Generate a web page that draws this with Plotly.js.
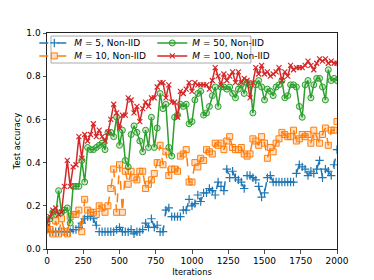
<!DOCTYPE html>
<html><head><meta charset="utf-8">
<script src="https://cdn.plot.ly/plotly-3.0.1.min.js"></script>
<style>html,body{margin:0;padding:0;background:#fff}#chart{width:374px;height:280px}</style>
</head><body><div id="chart"></div>
<script>
const iterations = Array.from({length:101},(_,i)=>i*20);
const accM5 = [0.09,0.08,0.08,0.08,0.08,0.08,0.08,0.08,0.08,0.09,0.09,0.10,0.12,0.14,0.15,0.15,0.14,0.11,0.08,0.08,
0.08,0.08,0.08,0.08,0.09,0.10,0.08,0.08,0.08,0.09,0.07,0.08,0.08,0.09,0.12,0.10,0.14,0.10,0.11,0.08,
0.08,0.18,0.19,0.15,0.15,0.15,0.15,0.18,0.18,0.23,0.20,0.21,0.25,0.22,0.26,0.26,0.28,0.27,0.25,0.31,
0.29,0.27,0.37,0.33,0.36,0.33,0.32,0.31,0.28,0.34,0.34,0.33,0.32,0.29,0.24,0.26,0.33,0.34,0.31,0.31,
0.31,0.31,0.31,0.31,0.31,0.31,0.35,0.39,0.38,0.37,0.34,0.36,0.35,0.37,0.41,0.33,0.37,0.36,0.34,0.39,0.46];
const accM10 = [0.10,0.09,0.07,0.13,0.07,0.14,0.08,0.07,0.15,0.16,0.16,0.18,0.08,0.23,0.18,0.17,0.17,0.16,0.20,0.19,
0.17,0.20,0.28,0.37,0.17,0.39,0.17,0.36,0.30,0.36,0.33,0.32,0.36,0.36,0.28,0.30,0.32,0.35,0.40,0.48,
0.39,0.45,0.34,0.37,0.37,0.36,0.43,0.44,0.46,0.31,0.31,0.40,0.38,0.42,0.41,0.46,0.45,0.44,0.49,0.48,
0.49,0.46,0.50,0.52,0.47,0.46,0.46,0.47,0.44,0.43,0.44,0.51,0.50,0.48,0.52,0.49,0.42,0.47,0.45,0.49,
0.51,0.54,0.53,0.52,0.52,0.55,0.50,0.51,0.53,0.52,0.53,0.49,0.55,0.52,0.49,0.53,0.56,0.48,0.55,0.55,0.59];
const accM50 = [0.12,0.14,0.17,0.16,0.27,0.17,0.18,0.19,0.12,0.29,0.29,0.29,0.41,0.31,0.47,0.46,0.46,0.47,0.48,0.49,
0.46,0.54,0.54,0.52,0.61,0.48,0.55,0.41,0.38,0.53,0.57,0.54,0.50,0.45,0.55,0.47,0.61,0.47,0.56,0.72,
0.65,0.67,0.47,0.43,0.61,0.62,0.67,0.66,0.67,0.58,0.59,0.69,0.72,0.73,0.62,0.63,0.66,0.71,0.75,0.66,
0.75,0.75,0.74,0.75,0.72,0.70,0.74,0.76,0.72,0.77,0.76,0.63,0.76,0.78,0.75,0.69,0.74,0.73,0.71,0.75,
0.76,0.78,0.70,0.71,0.76,0.76,0.75,0.66,0.61,0.76,0.78,0.70,0.76,0.79,0.79,0.75,0.69,0.83,0.78,0.79,0.78];
const accM100 = [0.12,0.15,0.18,0.19,0.16,0.17,0.29,0.41,0.29,0.38,0.39,0.52,0.42,0.53,0.50,0.53,0.58,0.52,0.55,0.52,
0.50,0.54,0.60,0.67,0.63,0.56,0.62,0.62,0.70,0.69,0.63,0.66,0.59,0.65,0.68,0.66,0.70,0.70,0.75,0.77,
0.77,0.70,0.76,0.68,0.68,0.61,0.73,0.72,0.74,0.77,0.73,0.77,0.76,0.76,0.76,0.76,0.74,0.78,0.84,0.80,
0.76,0.81,0.78,0.80,0.82,0.77,0.82,0.77,0.79,0.78,0.70,0.77,0.84,0.81,0.85,0.81,0.82,0.80,0.81,0.82,
0.84,0.78,0.82,0.80,0.85,0.83,0.84,0.84,0.84,0.85,0.87,0.85,0.83,0.86,0.88,0.87,0.88,0.86,0.87,0.86,0.86];
const seriesNames = ['<i>M</i> = 5, Non-IID','<i>M</i> = 10, Non-IID','<i>M</i> = 50, Non-IID','<i>M</i> = 100, Non-IID'];
const xTicks = [0,250,500,750,1000,1250,1500,1750,2000];
const yTicks = [0.0,0.2,0.4,0.6,0.8,1.0];

const traces = [
 {x:iterations,y:accM5,name:seriesNames[0],legend:'legend',legendrank:1,mode:'lines+markers',
  line:{color:'#1f77b4',width:1.5,dash:'dash'},marker:{symbol:'cross-thin',size:6,line:{color:'#1f77b4',width:1.2}}},
 {x:iterations,y:accM10,name:seriesNames[1],legend:'legend2',legendrank:1,mode:'lines+markers',
  line:{color:'#ff7f0e',width:1.5,dash:'dash'},marker:{symbol:'square',size:6,color:'rgba(255,127,14,0.25)',line:{color:'#ff7f0e',width:1}}},
 {x:iterations,y:accM50,name:seriesNames[2],legend:'legend',legendrank:2,mode:'lines+markers',
  line:{color:'#2ca02c',width:1.5},marker:{symbol:'circle',size:6,color:'rgba(44,160,44,0.25)',line:{color:'#2ca02c',width:1}}},
 {x:iterations,y:accM100,name:seriesNames[3],legend:'legend2',legendrank:2,mode:'lines+markers',
  line:{color:'#d62728',width:1.5},marker:{symbol:'x-thin',size:5,line:{color:'#d62728',width:1.2}}}
];
const axisCommon = {showgrid:false,zeroline:false,showline:true,linecolor:'#222',linewidth:1,mirror:true,
  ticks:'outside',ticklen:3.5,tickwidth:0.8,tickcolor:'#222',tickfont:{family:'DejaVu Sans',size:9,color:'#000'}};
const legCommon = {orientation:'h',xanchor:'right',yanchor:'middle',entrywidth:73,
  bgcolor:'rgba(255,255,255,0)',bordercolor:'rgba(255,255,255,0)',borderwidth:0,
  font:{family:'DejaVu Sans',size:9,color:'#000'},itemwidth:30};
const layout = {
 width:374,height:280,margin:{l:47,r:37,t:33,b:31},
 paper_bgcolor:'#fff',plot_bgcolor:'#fff',font:{family:'DejaVu Sans',size:9,color:'#000'},
 xaxis:Object.assign({},axisCommon,{range:[0,2000],tickvals:xTicks,ticktext:xTicks.map(String),
   title:{text:'Iterations',font:{size:8.3},standoff:3}}),
 yaxis:Object.assign({},axisCommon,{range:[0,1],tickvals:yTicks,ticktext:yTicks.map(v=>v.toFixed(1)),
   title:{text:'Test accuracy',font:{size:8.3},standoff:4}}),
 legend:Object.assign({},legCommon,{x:0.77,y:0.954}),
 legend2:Object.assign({},legCommon,{x:0.77,y:0.894}),
 shapes:[{type:'rect',xref:'paper',yref:'paper',x0:0.0138,x1:0.703,y0:0.861,y1:0.986,layer:'above',
   fillcolor:'rgba(255,255,255,0.8)',line:{color:'#aaaaaa',width:1}}],
 showlegend:true
};
Plotly.newPlot('chart',traces,layout,{staticPlot:true,displayModeBar:false});
</script></body></html>
